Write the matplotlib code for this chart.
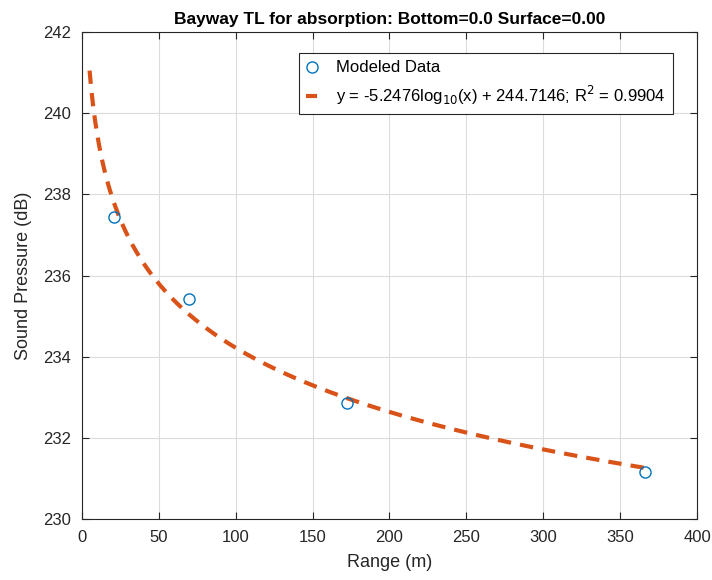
import numpy as np
import matplotlib
matplotlib.use("Agg")
import matplotlib.pyplot as plt

plt.rcParams['font.family'] = ['Liberation Sans', 'DejaVu Sans']

# modeled received levels vs range
range_m = [20.8, 69.5, 172.5, 366.0]
spl_db = [237.44, 235.42, 232.86, 231.16]

# log fit coefficients
fit_a = -5.2476
fit_b = 244.7146
fit_r2 = 0.9904
fit_x = np.linspace(5, 367, 300)
fit_y = fit_a * np.log10(fit_x) + fit_b

fig = plt.figure(figsize=(7.12, 5.8), dpi=100)
ax = fig.add_axes([0.115, 0.105, 0.864, 0.84])

ax.plot(range_m, spl_db, 'o', mfc='none', mec='#0072BD', ms=8, mew=1.0,
        label='Modeled Data', zorder=3)
ax.plot(fit_x, fit_y, '--', color='#D95319', lw=3, dashes=(3.2, 2.2),
        label=r'y = %.4flog$_{10}$(x) + %.4f; R$^2$ = %.4f' % (fit_a, fit_b, fit_r2),
        zorder=2)

ax.set_xlim(0, 400)
ax.set_ylim(230, 242)
ax.set_xticks(np.arange(0, 401, 50))
ax.set_yticks(np.arange(230, 243, 2))
ax.grid(True, color='#dcdcdc', lw=0.8)
ax.set_axisbelow(True)
ax.tick_params(direction='in', top=True, right=True, labelsize=12,
               length=5, pad=8, color='#262626', labelcolor='#262626')
for s in ax.spines.values():
    s.set_color('#262626')
    s.set_linewidth(0.8)

ax.set_xlabel('Range (m)', fontsize=13, color='#262626', labelpad=6)
ax.set_ylabel('Sound Pressure (dB)', fontsize=13, color='#262626', labelpad=8)
ax.set_title('Bayway TL for absorption: Bottom=0.0 Surface=0.00',
             fontsize=12.5, fontweight='bold', pad=6)

leg = ax.legend(loc='upper right', bbox_to_anchor=(0.974, 0.974), fontsize=12,
                fancybox=False, edgecolor='#262626', framealpha=1,
                handlelength=0.65, handletextpad=1.1, borderpad=0.45,
                labelspacing=0.5)
leg.get_frame().set_linewidth(0.8)

fig.savefig('out.png', dpi=100)
